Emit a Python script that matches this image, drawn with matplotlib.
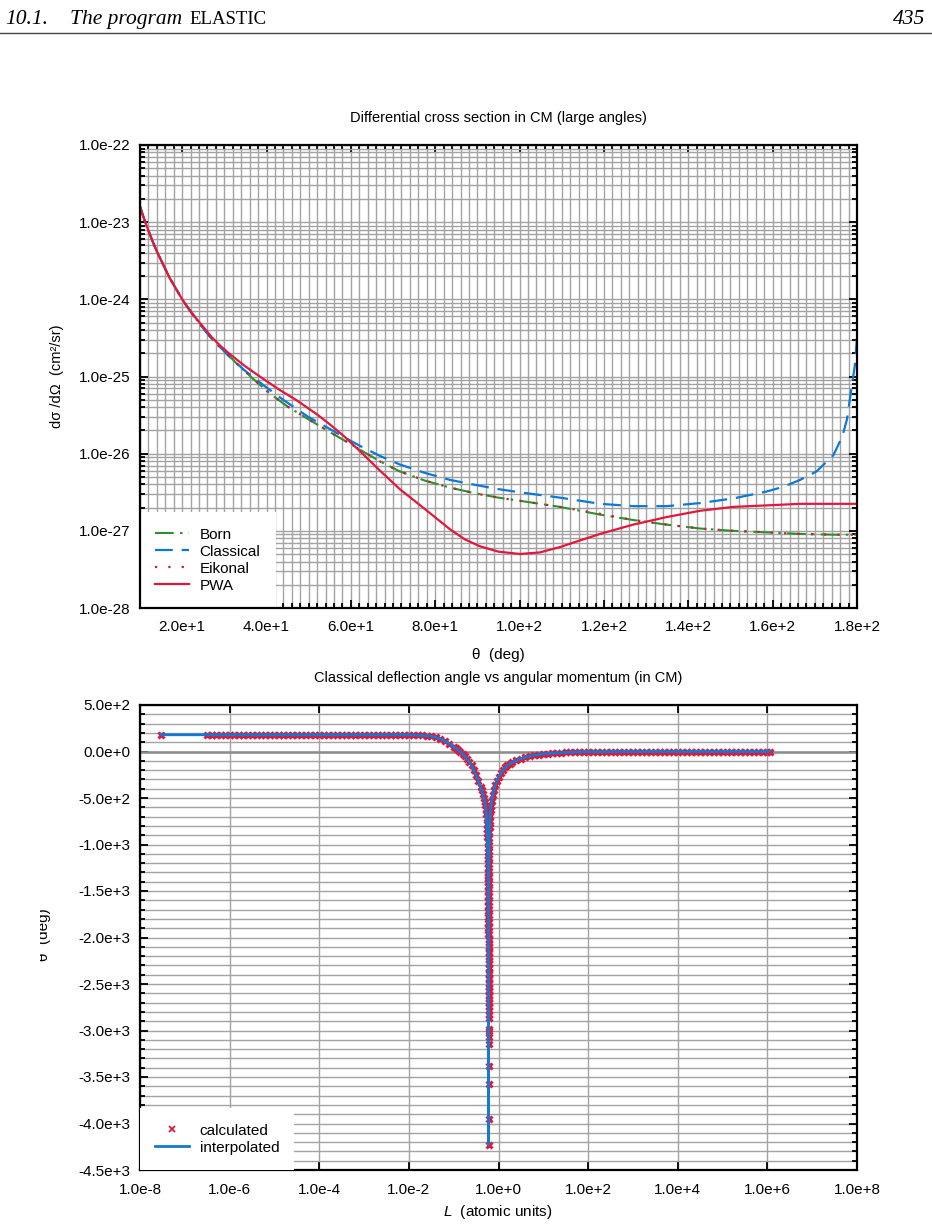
import numpy as np
import matplotlib
matplotlib.use("Agg")
import matplotlib.pyplot as plt
from matplotlib.ticker import MultipleLocator, FuncFormatter, LogLocator, NullLocator
from matplotlib.lines import Line2D
from matplotlib.transforms import Bbox, TransformedBbox

plt.rcParams["font.family"] = ["Liberation Sans", "DejaVu Sans"]
plt.rcParams["mathtext.fontset"] = "custom"
plt.rcParams["mathtext.it"] = "Liberation Sans:italic"
plt.rcParams["mathtext.rm"] = "Liberation Sans"

# ---- differential cross section (log10 of cm^2/sr) vs CM angle (deg) ----
theta_born = [10.0, 11.0, 12.0, 13.0, 14.0, 15.5, 17.0, 18.5, 20.0, 21.5, 23.5, 25.5, 27.0,
              29.0, 32.9, 36.8, 40.8, 45.0, 49.5, 55.0, 58.5, 62.2, 66.9, 71.6, 77.6, 83.5,
              90.0, 95.0, 100.0, 109.6, 119.1, 127.0, 134.9, 142.8, 150.7, 158.6, 166.5,
              174.4, 180.0]
log_born = [-22.80, -22.96, -23.11, -23.25, -23.38, -23.55, -23.72, -23.86, -24.00, -24.12,
            -24.27, -24.41, -24.51, -24.62, -24.83, -25.03, -25.22, -25.39, -25.54, -25.72,
            -25.83, -25.95, -26.10, -26.23, -26.35, -26.44, -26.52, -26.57, -26.61, -26.69,
            -26.79, -26.86, -26.92, -26.97, -27.00, -27.02, -27.04, -27.05, -27.05]

theta_eik = theta_born
log_eik = [-22.80, -22.96, -23.11, -23.25, -23.38, -23.55, -23.72, -23.86, -24.00, -24.12,
           -24.27, -24.41, -24.51, -24.62, -24.83, -25.03, -25.22, -25.39, -25.54, -25.72,
           -25.83, -25.95, -26.10, -26.23, -26.35, -26.44, -26.52, -26.57, -26.61, -26.69,
           -26.78, -26.86, -26.92, -26.97, -27.00, -27.02, -27.04, -27.05, -27.05]

theta_cl = [10.0, 11.0, 12.0, 13.0, 14.0, 15.5, 17.0, 18.5, 20.0, 21.5, 23.5, 25.5, 27.0,
            29.0, 31.3, 35.0, 39.2, 43.9, 49.8, 55.0, 58.5, 62.2, 66.9, 71.6, 77.6, 83.5,
            90.0, 95.0, 100.0, 109.6, 119.1, 127.0, 134.9, 142.8, 150.7, 158.6, 162.5,
            166.5, 170.4, 174.4, 176.5, 177.6, 178.3, 179.5, 180.0]
log_cl = [-22.80, -22.96, -23.11, -23.25, -23.38, -23.55, -23.72, -23.86, -24.00, -24.12,
          -24.27, -24.41, -24.51, -24.62, -24.75, -24.93, -25.11, -25.30, -25.52, -25.68,
          -25.79, -25.90, -26.03, -26.14, -26.25, -26.34, -26.41, -26.46, -26.50, -26.57,
          -26.65, -26.68, -26.68, -26.64, -26.58, -26.49, -26.43, -26.34, -26.23, -26.02,
          -25.78, -25.56, -25.30, -24.85, -24.50]

theta_pwa = [10.0, 11.0, 12.0, 13.0, 14.0, 15.5, 17.0, 18.5, 20.0, 21.5, 23.5, 25.5, 27.0,
             29.0, 31.3, 35.0, 39.2, 43.0, 47.2, 52.2, 55.0, 58.5, 62.0, 66.9, 71.6, 77.6,
             83.5, 87.0, 90.6, 95.0, 100.1, 104.8, 109.6, 114.0, 119.1, 126.9, 135.0, 142.8,
             150.6, 158.7, 166.5, 180.0]
log_pwa = [-22.80, -22.96, -23.11, -23.25, -23.38, -23.55, -23.72, -23.86, -24.00, -24.12,
           -24.26, -24.39, -24.49, -24.60, -24.71, -24.87, -25.03, -25.17, -25.31, -25.50,
           -25.62, -25.78, -25.96, -26.22, -26.46, -26.72, -26.98, -27.11, -27.20, -27.27,
           -27.30, -27.28, -27.21, -27.13, -27.04, -26.92, -26.82, -26.74, -26.69, -26.67,
           -26.65, -26.65]

# ---- classical deflection angle (deg) vs angular momentum L (a.u.) ----
L_calc = [
    3.0e-8,
    3.16e-7, 3.98e-7, 5.01e-7, 6.31e-7, 7.94e-7,
    1.0e-6, 1.26e-6, 1.58e-6, 2.0e-6, 2.51e-6, 3.16e-6, 3.98e-6, 5.01e-6, 6.31e-6, 7.94e-6,
    1.0e-5, 1.26e-5, 1.58e-5, 2.0e-5, 2.51e-5, 3.16e-5, 3.98e-5, 5.01e-5, 6.31e-5, 7.94e-5,
    1.0e-4, 1.26e-4, 1.58e-4, 2.0e-4, 2.51e-4, 3.16e-4, 3.98e-4, 5.01e-4, 6.31e-4, 7.94e-4,
    1.0e-3, 1.26e-3, 1.58e-3, 2.0e-3, 2.51e-3, 3.16e-3, 3.98e-3, 5.01e-3, 6.31e-3, 7.94e-3,
    1.0e-2, 1.26e-2, 1.58e-2, 2.0e-2, 2.51e-2, 3.16e-2, 3.98e-2, 5.01e-2, 6.31e-2, 7.94e-2,
    0.100, 0.112, 0.126, 0.141, 0.158, 0.178, 0.200, 0.224, 0.251, 0.282, 0.316, 0.355,
    0.398, 0.422, 0.447, 0.473, 0.500, 0.510, 0.520, 0.530, 0.540, 0.548, 0.555, 0.560,
    0.565, 0.570, 0.575, 0.578, 0.580, 0.582, 0.584, 0.586, 0.588, 0.589, 0.590, 0.591,
    0.592, 0.593, 0.594, 0.5948, 0.5955, 0.5962, 0.5968, 0.5973, 0.5977, 0.5981, 0.5984,
    0.5987, 0.5989, 0.5991, 0.5993, 0.5994, 0.5995, 0.5996, 0.59965, 0.5997, 0.59974,
    0.59978, 0.59984, 0.59988, 0.59992, 0.59996, 0.59999,
    0.60001, 0.60003, 0.60006, 0.60009, 0.60012, 0.60015, 0.60018, 0.60022, 0.60026,
    0.6003, 0.60035, 0.6004, 0.60047, 0.60055, 0.60065, 0.60075, 0.6009, 0.6011, 0.6013,
    0.6016, 0.6019, 0.6023, 0.6028, 0.6034, 0.6041, 0.605, 0.606, 0.6072, 0.6087, 0.6105,
    0.6127, 0.6155, 0.619, 0.623, 0.628, 0.634, 0.642, 0.652, 0.665, 0.680, 0.700,
    0.74, 0.79, 0.85, 0.91, 1.0, 1.12, 1.26, 1.41, 1.58, 1.78,
    2.0, 2.51, 3.16, 3.98, 5.01, 6.31, 7.94,
    10.0, 12.6, 15.8, 20.0, 25.1, 31.6, 39.8, 50.1, 63.1, 79.4,
    100.0, 126.0, 158.0, 200.0, 251.0, 316.0, 398.0, 501.0, 631.0, 794.0,
    1.0e3, 1.26e3, 1.58e3, 2.0e3, 2.51e3, 3.16e3, 3.98e3, 5.01e3, 6.31e3, 7.94e3,
    1.0e4, 1.26e4, 1.58e4, 2.0e4, 2.51e4, 3.16e4, 3.98e4, 5.01e4, 6.31e4, 7.94e4,
    1.0e5, 1.26e5, 1.58e5, 2.0e5, 2.51e5, 3.16e5, 3.98e5, 5.01e5, 6.31e5, 7.94e5,
    1.0e6, 1.15e6,
]
theta_calc = [
    180.0,
    180.0, 180.0, 180.0, 180.0, 180.0,
    180.0, 180.0, 180.0, 180.0, 180.0, 180.0, 180.0, 180.0, 180.0, 180.0,
    180.0, 180.0, 180.0, 180.0, 180.0, 180.0, 180.0, 180.0, 180.0, 180.0,
    180.0, 180.0, 180.0, 180.0, 180.0, 180.0, 180.0, 180.0, 180.0, 180.0,
    180.0, 180.0, 180.0, 180.0, 179.9, 179.9, 179.8, 179.8, 179.7, 179.5,
    178.5, 177.5, 176.0, 173.5, 170.0, 164.0, 152.0, 136.0, 114.0, 86.0,
    52.0, 35.0, 17.0, -3.0, -25.0, -50.0, -78.0, -110.0, -150.0, -200.0, -255.0, -315.0,
    -380.0, -415.0, -455.0, -495.0, -540.0, -578.0, -620.0, -668.0, -720.0, -775.0, -830.0, -875.0,
    -920.0, -975.0, -1040.0, -1085.0, -1120.0, -1160.0, -1200.0, -1250.0, -1305.0, -1335.0, -1370.0, -1407.0,
    -1450.0, -1500.0, -1553.0, -1604.0, -1657.0, -1718.0, -1780.0, -1841.0, -1898.0, -1967.0, -2030.0,
    -2105.0, -2165.0, -2237.0, -2328.0, -2382.0, -2450.0, -2530.0, -2580.0, -2634.0, -2700.0,
    -2780.0, -2870.0, -3010.0, -3140.0, -3575.0, -4228.0,
    -3955.0, -3380.0, -3065.0, -2980.0, -2830.0, -2750.0, -2690.0, -2620.0, -2560.0,
    -2500.0, -2440.0, -2390.0, -2330.0, -2270.0, -2210.0, -2160.0, -2090.0, -2020.0, -1960.0,
    -1890.0, -1830.0, -1760.0, -1690.0, -1620.0, -1550.0, -1480.0, -1415.0, -1350.0, -1280.0, -1210.0,
    -1140.0, -1070.0, -1000.0, -935.0, -870.0, -810.0, -750.0, -690.0, -630.0, -585.0, -535.0,
    -470.0, -410.0, -360.0, -318.0, -275.0, -235.0, -200.0, -172.0, -150.0, -132.0,
    -118.0, -95.0, -77.0, -62.0, -48.0, -40.0, -33.0,
    -27.0, -22.0, -18.0, -15.0, -12.0, -10.0, -8.0, -6.5, -5.3, -4.3,
    -3.5, -2.8, -2.3, -1.9, -1.5, -1.2, -1.0, -0.8, -0.65, -0.5,
    -0.4, -0.3, -0.25, -0.2, -0.15, -0.12, -0.1, -0.08, -0.06, -0.05,
    -0.04, -0.03, -0.03, -0.02, -0.02, -0.01, -0.01, -0.01, -0.01, -0.01,
    0.0, 0.0, 0.0, 0.0, 0.0, 0.0, 0.0, 0.0, 0.0, 0.0,
    0.0, 0.0,
]

dcs_ticks = [1e-28, 1e-27, 1e-26, 1e-25, 1e-24, 1e-23, 1e-22]
L_ticks = [1e-8, 1e-6, 1e-4, 1e-2, 1e0, 1e2, 1e4, 1e6, 1e8]


def sci(v, pos=None):
    if v == 0:
        return "0.0e+0"
    e = int(np.floor(np.log10(abs(v)) + 1e-9))
    m = v / 10.0 ** e
    return f"{m:.1f}e{e:+d}"


W, H = 932, 1232
fig = plt.figure(figsize=(W / 100, H / 100), dpi=100)


def fx(px):
    return px / W


def fy(py):
    return 1 - py / H


# page header
fig.text(fx(5), fy(24), "10.1.", family="Liberation Serif", style="italic", fontsize=15.5, va="baseline")
fig.text(fx(70), fy(24), "The program", family="Liberation Serif", style="italic", fontsize=15.5, va="baseline")
fig.text(fx(189), fy(24), "ELASTIC", family="Liberation Serif", fontsize=13.5, va="baseline")
fig.text(fx(925), fy(24), "435", family="Liberation Serif", style="italic", fontsize=15.5, va="baseline", ha="right")
fig.add_artist(Line2D([0, 1], [fy(33), fy(33)], transform=fig.transFigure, color="#444444", lw=1.0))

grid_c = "#a3a3a3"


def style_axes(ax):
    for s in ax.spines.values():
        s.set_linewidth(1.6)
        s.set_zorder(5)
    ax.tick_params(which="both", direction="in", top=True, right=True, labelsize=11, width=1.3)
    ax.tick_params(which="major", length=6)
    ax.tick_params(which="minor", length=3.5)
    ax.tick_params(axis="x", pad=9)
    ax.tick_params(axis="y", pad=7)


leg_kw = dict(loc="lower left", fontsize=11, frameon=True, fancybox=False, edgecolor="none",
              facecolor="white", framealpha=1.0, borderaxespad=0.0, borderpad=1.0,
              handlelength=2.2, handletextpad=0.7, labelspacing=0.2)

# ---------------- top panel ----------------
ax1 = fig.add_axes([fx(140), fy(608), (857 - 140) / W, (608 - 145) / H])
ax1.plot(theta_born, 10.0 ** np.array(log_born), color="#2f8f2f", lw=1.5,
         dashes=[9, 3, 1.2, 3], label="Born")
ax1.plot(theta_cl, 10.0 ** np.array(log_cl), color="#0b79d6", lw=1.6,
         dashes=[8, 4], label="Classical")
ax1.plot(theta_eik, 10.0 ** np.array(log_eik), color="#b22a2a", lw=1.6,
         dashes=[1, 5], label="Eikonal")
ax1.plot(theta_pwa, 10.0 ** np.array(log_pwa), color="#e3173e", lw=1.6, label="PWA")
ax1.set_yscale("log")
ax1.set_xlim(10, 180)
ax1.set_ylim(1e-28, 1e-22)
ax1.set_yticks(dcs_ticks)
ax1.yaxis.set_minor_locator(LogLocator(base=10, subs=np.arange(2, 10)))
ax1.yaxis.set_major_formatter(FuncFormatter(sci))
ax1.yaxis.set_minor_formatter(FuncFormatter(lambda v, p: ""))
ax1.xaxis.set_major_locator(MultipleLocator(20))
ax1.xaxis.set_minor_locator(MultipleLocator(2))
ax1.xaxis.set_major_formatter(FuncFormatter(sci))
ax1.grid(which="both", color=grid_c, lw=1.0)
ax1.set_axisbelow(True)
style_axes(ax1)
leg1 = ax1.legend(**leg_kw)
leg1.set_zorder(4)

fig.text(fx(498), fy(118), "Differential cross section in CM (large angles)", ha="center", va="center", fontsize=10.5)
fig.text(fx(498), fy(655), "θ  (deg)", ha="center", va="center", fontsize=11)
fig.text(fx(57), fy(376), "dσ /dΩ  (cm²/sr)", ha="center", va="center", rotation=90, fontsize=10.5)

# ---------------- bottom panel ----------------
ax2 = fig.add_axes([fx(140), fy(1170), (857 - 140) / W, (1170 - 705) / H])
ax2.plot(L_calc, theta_calc, ls="none", marker="x", ms=5, mew=2.2, color="#e3173e",
         label="calculated", zorder=3)
ax2.plot(L_calc, theta_calc, color="#1479d0", lw=2.0, label="interpolated", zorder=3.5)
ax2.set_xscale("log")
ax2.set_xlim(1e-8, 1e8)
ax2.set_ylim(-4500, 500)
ax2.set_xticks(L_ticks)
ax2.xaxis.set_minor_locator(NullLocator())
ax2.xaxis.set_major_formatter(FuncFormatter(sci))
ax2.yaxis.set_major_locator(MultipleLocator(500))
ax2.yaxis.set_minor_locator(MultipleLocator(100))
ax2.yaxis.set_major_formatter(FuncFormatter(sci))
ax2.grid(which="major", axis="x", color=grid_c, lw=1.0)
ax2.grid(which="both", axis="y", color=grid_c, lw=1.0)
ax2.axhline(0, color="#8c8c8c", lw=1.8, zorder=1)
ax2.set_axisbelow(True)
style_axes(ax2)
leg2 = ax2.legend(**leg_kw)
leg2.set_zorder(6)
leg2.legend_handles[0].set_markersize(4.5)
leg2.legend_handles[0].set_markeredgewidth(1.3)

fig.text(fx(498), fy(678), "Classical deflection angle vs angular momentum (in CM)", ha="center", va="center", fontsize=10.5)
fig.text(fx(498), fy(1212), r"$L$  (atomic units)", ha="center", va="center", fontsize=11)
yl2 = fig.text(fx(44), fy(935), "θ  (deg)", ha="center", va="center", rotation=90, fontsize=11)
yl2.set_clip_box(TransformedBbox(Bbox([[fx(40), 0], [1, 1]]), fig.transFigure))
yl2.set_clip_on(True)

fig.savefig("out.png", dpi=100)
